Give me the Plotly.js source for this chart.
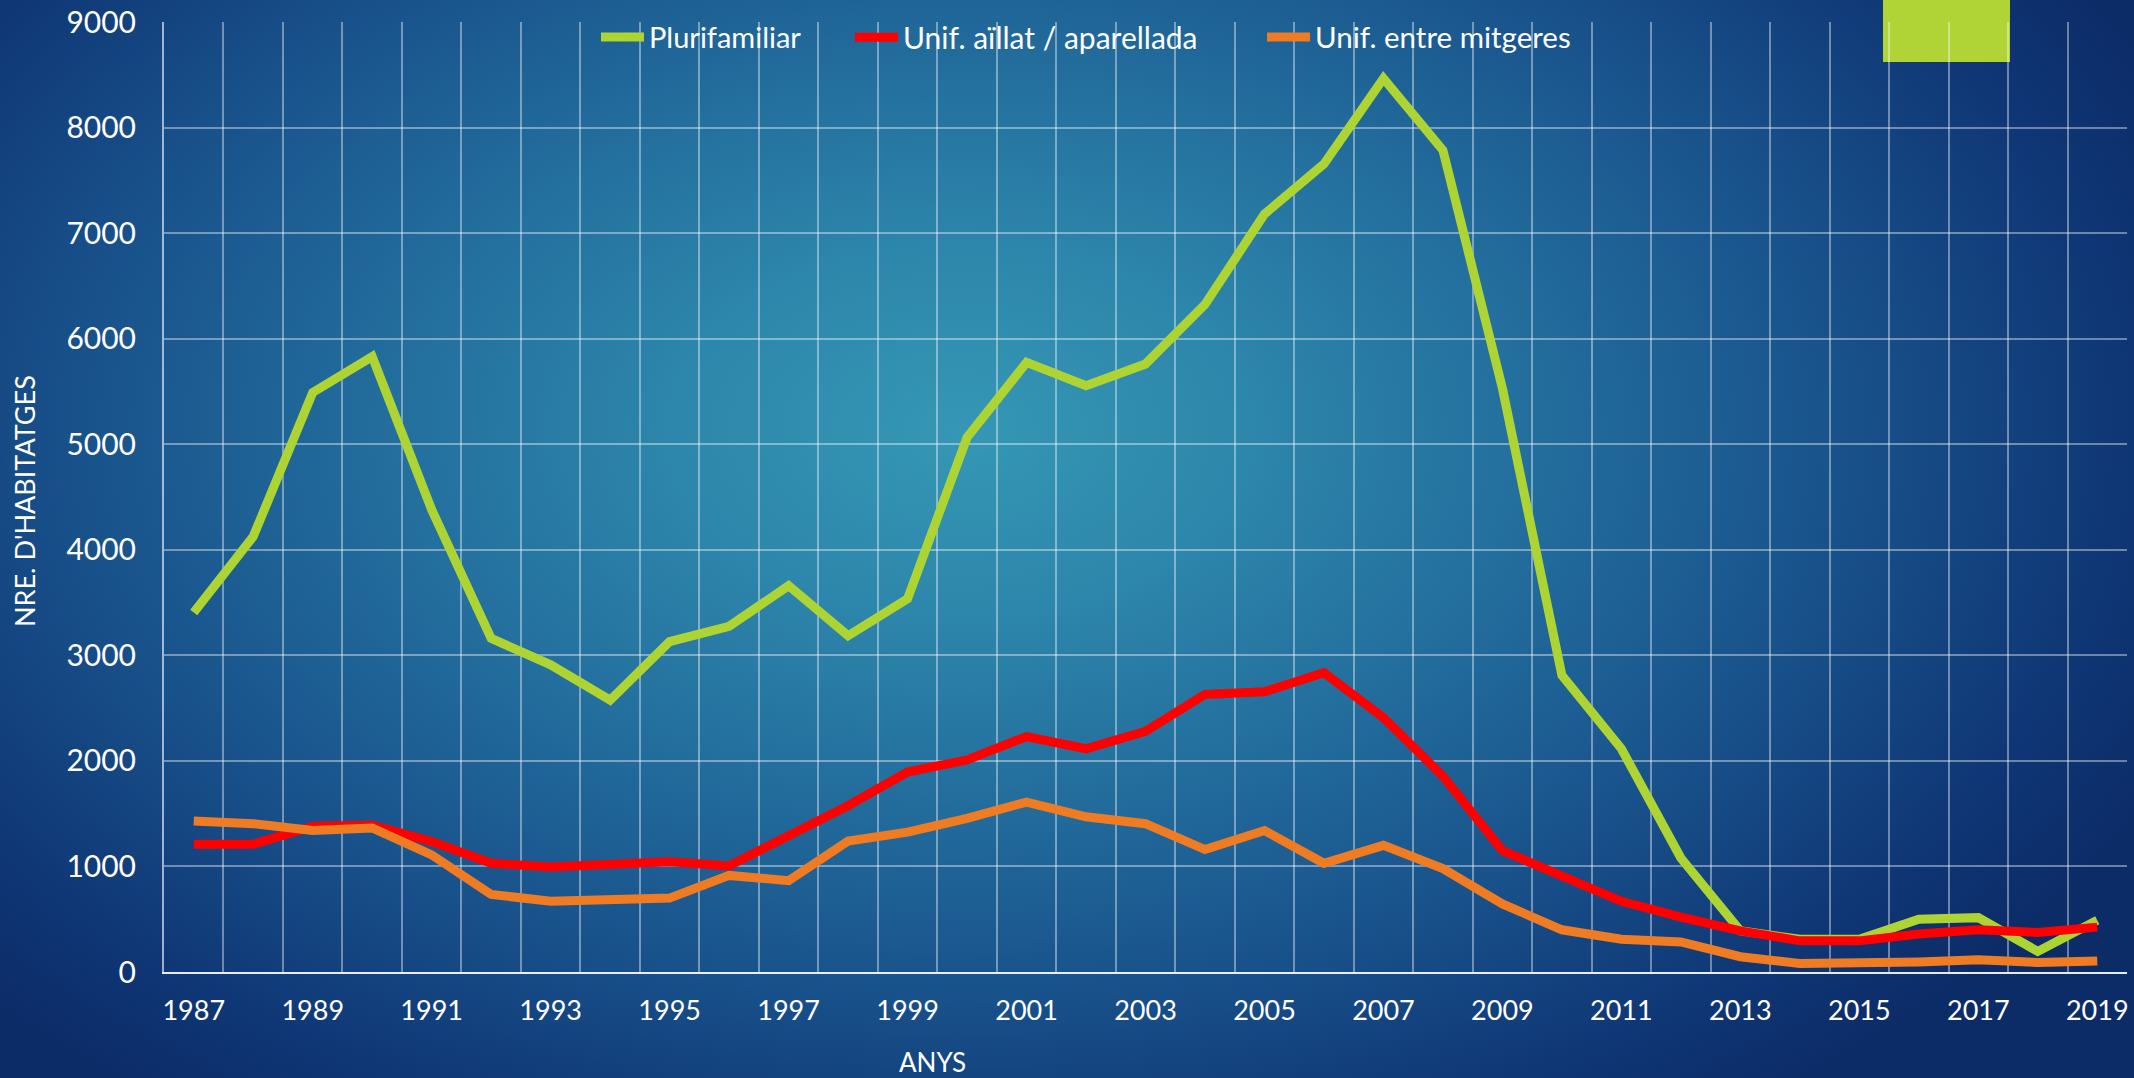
<!DOCTYPE html>
<html>
<head>
<meta charset="utf-8">
<script src="https://cdn.plot.ly/plotly-3.0.1.min.js"></script>
<style>
  html, body { margin: 0; padding: 0; width: 2134px; height: 1078px; overflow: hidden; }
  body {
    background: radial-gradient(ellipse 62% 78% at 45% 40%, #3597b5 0%, #2d86ab 22%, #226c9c 45%, #18508a 68%, #0f3675 88%, #0c2c68 100%);
  }
  #chart { width: 2134px; height: 1078px; }
</style>
</head>
<body>
<div id="chart"></div>
<script>
const years = [1987,1988,1989,1990,1991,1992,1993,1994,1995,1996,1997,1998,1999,2000,2001,2002,2003,2004,2005,2006,2007,2008,2009,2010,2011,2012,2013,2014,2015,2016,2017,2018,2019];
const plurifamiliar = [3405,4125,5490,5830,4380,3160,2910,2575,3130,3275,3660,3185,3535,5065,5775,5555,5760,6325,7180,7655,8465,7785,5530,2810,2115,1080,390,310,310,500,515,195,490];
const unifAillat = [1210,1210,1380,1390,1235,1030,995,1020,1045,1005,1290,1575,1895,2010,2230,2115,2280,2630,2655,2835,2410,1855,1150,915,670,520,390,295,295,360,400,375,425];
const unifMitgeres = [1430,1405,1340,1365,1110,735,670,685,700,915,865,1240,1325,1455,1610,1470,1405,1160,1340,1030,1200,980,645,400,310,285,145,80,80,95,115,90,105];
const xTickYears = [1987,1989,1991,1993,1995,1997,1999,2001,2003,2005,2007,2009,2011,2013,2015,2017,2019];
const xTickLabels = ["1987","1989","1991","1993","1995","1997","1999","2001","2003","2005","2007","2009","2011","2013","2015","2017","2019"];
const yTickVals = [0,1000,2000,3000,4000,5000,6000,7000,8000,9000];
const seriesNames = ["Plurifamiliar", "Unif. aïllat / aparellada", "Unif. entre mitgeres"];

const FONT = "Lato, 'Open Sans', sans-serif";
const grid = "rgba(255,255,255,0.40)";

const traces = [
  {x: years, y: plurifamiliar, name: seriesNames[0], type: "scatter", mode: "lines", legend: "legend",
   line: {color: "#add432", width: 9}},
  {x: years, y: unifAillat, name: seriesNames[1], type: "scatter", mode: "lines", legend: "legend2",
   line: {color: "#ff0000", width: 9}},
  {x: years, y: unifMitgeres, name: seriesNames[2], type: "scatter", mode: "lines", legend: "legend3",
   line: {color: "#ef7b22", width: 9}}
];

function leg(px, fs) {
  return {
    orientation: "h", x: (px - 164) / 1963, xanchor: "left", y: 0.984, yanchor: "middle",
    bgcolor: "rgba(0,0,0,0)", font: {size: fs, color: "#ffffff", family: FONT}, itemwidth: 43
  };
}

const layout = {
  width: 2134, height: 1078,
  paper_bgcolor: "rgba(0,0,0,0)",
  plot_bgcolor: "rgba(0,0,0,0)",
  margin: {l: 164, r: 7, t: 22, b: 106},
  font: {family: FONT, color: "#ffffff", size: 27},
  showlegend: true,
  legend: leg(596, 29),
  legend2: leg(850, 30),
  legend3: leg(1262, 29.5),
  xaxis: {
    type: "linear", range: [1986.5, 2019.5], fixedrange: true,
    tickmode: "array", tickvals: xTickYears, ticktext: xTickLabels,
    showgrid: false, zeroline: false,
    ticks: "", ticklabelstandoff: 14,
    tickfont: {size: 27, color: "#ffffff", family: FONT},
    showline: true, linecolor: "rgba(255,255,255,0.9)", linewidth: 2,
    minor: {tickmode: "linear", tick0: 1986.5, dtick: 1, showgrid: true, gridcolor: grid, gridwidth: 2, ticks: ""}
  },
  yaxis: {
    range: [0, 9000], fixedrange: true,
    tickmode: "array", tickvals: yTickVals,
    showgrid: true, gridcolor: grid, gridwidth: 2,
    zeroline: false, ticks: "", ticklabelstandoff: 20,
    tickfont: {size: 30, color: "#ffffff", family: FONT},
    showline: true, linecolor: "rgba(255,255,255,0.6)", linewidth: 2
  },
  shapes: [
    {type: "rect", xref: "paper", yref: "paper", layer: "below",
     x0: (1883 - 164) / 1963, x1: (2010 - 164) / 1963, y0: (972 - 62) / 950, y1: 1.1,
     fillcolor: "#b0d435", line: {width: 0}}
  ],
  annotations: [
    {text: "NRE. D'HABITATGES", xref: "paper", yref: "paper", x: (25 - 164) / 1963, y: (972 - 501) / 950,
     xanchor: "center", yanchor: "middle", textangle: -90, showarrow: false,
     font: {size: 27, color: "#ffffff", family: FONT}},
    {text: "ANYS", xref: "paper", yref: "paper", x: (932 - 164) / 1963, y: (972 - 1062) / 950,
     xanchor: "center", yanchor: "middle", showarrow: false,
     font: {size: 26, color: "#ffffff", family: FONT}}
  ]
};

Plotly.newPlot("chart", traces, layout, {displayModeBar: false, staticPlot: true});
</script>
</body>
</html>
